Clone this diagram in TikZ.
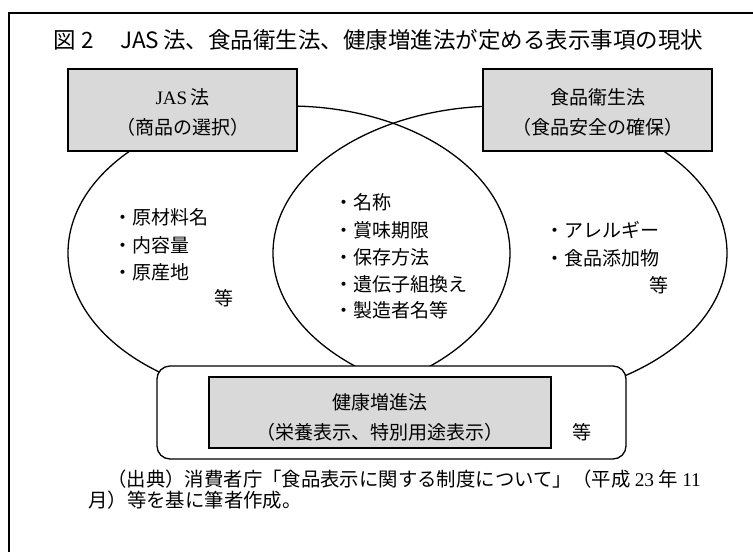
\documentclass[tikz,border=0pt]{standalone}
\usepackage{fontspec}
\setmainfont{Noto Sans CJK JP}
\newfontfamily\lat{Liberation Serif}
\usetikzlibrary{shapes.geometric}
\tikzset{
  line/.style={line width=1.3pt},
  venn/.style={draw, line width=1.3pt, ellipse, inner sep=0pt},
  graybox/.style={draw, line width=1.3pt, fill=boxgray, inner sep=0pt, align=center},
  body/.style={font=\fontsize{19}{30}\selectfont, inner sep=0pt},
  foot/.style={font=\fontsize{19.4}{30}\selectfont, inner sep=0pt},
  ttl/.style={font=\fontsize{22.5}{26}\selectfont, inner sep=0pt}
}
\definecolor{boxgray}{HTML}{D9D9D9}
\begin{document}
\begin{tikzpicture}[x=1pt,y=-1pt]
\useasboundingbox (0,0) rectangle (753,552);
\clip (0,0) rectangle (753,552);
% outer frame (open to the right and bottom)
\coordinate (fbl) at (9,580);
\coordinate (ftl) at (9,13);
\coordinate (ftr) at (780,13);
\draw[line] (fbl) -- (ftl) -- (ftr);
% title
\node[ttl, anchor=west] (title) at (53,40) {図\hspace{6pt}2\hspace{26pt}JAS\hspace{4pt}法、食品衛生法、健康増進法が定める表示事項の現状};
% Venn ellipses
\node[venn, minimum width=442pt, minimum height=294pt] (L) at (289,253) {};
\node[venn, minimum width=454pt, minimum height=294pt] (R) at (500,253) {};
% top boxes
\node[graybox, minimum width=229pt, minimum height=82pt] (jas) at (182.5,110) {};
\node[body, align=center] (jast) at (182.5,112) {{\lat JAS}\,法\\（商品の選択）};
\node[graybox, minimum width=229pt, minimum height=82pt] (shoku) at (597.5,110) {};
\node[body, align=center] (shokut) at (597.5,112) {食品衛生法\\（食品安全の確保）};
% lists
\node[body, anchor=west] (l1) at (113,217) {・原材料名};
\node[body, anchor=west] (l2) at (113,245) {・内容量};
\node[body, anchor=west] (l3) at (113,272) {・原産地};
\node[body, anchor=west] (l4) at (214,298) {等};
\node[body, anchor=west] (c1) at (334,202) {・名称};
\node[body, anchor=west] (c2) at (334,230) {・賞味期限};
\node[body, anchor=west] (c3) at (334,257) {・保存方法};
\node[body, anchor=west] (c4) at (334,284) {・遺伝子組換え};
\node[body, anchor=west] (c5) at (334,310) {・製造者名等};
\node[body, anchor=west] (r1) at (545,230) {・アレルギー};
\node[body, anchor=west] (r2) at (545,258) {・食品添加物};
\node[body, anchor=east] (r3) at (669,285) {等};
% bottom rounded box
\node[draw, line width=1.3pt, fill=white, rounded corners=13pt, minimum width=469pt, minimum height=93pt, inner sep=0pt] (kenbox) at (391.5,412.5) {};
\node[graybox, minimum width=342pt, minimum height=71pt] (ken) at (380,412.5) {};
\node[body, align=center] (kent) at (380,417) {健康増進法\\（栄養表示、特別用途表示）};
\node[body] (kento) at (582,432) {等};
% footer
\node[foot, anchor=west] (f1) at (88,479) {\hspace{19pt}（出典）消費者庁「食品表示に関する制度について」（平成 {\lat 23} 年 {\lat 11}};
\node[foot, anchor=west] (f2) at (88,500) {月）等を基に筆者作成。};
\end{tikzpicture}
\end{document}
